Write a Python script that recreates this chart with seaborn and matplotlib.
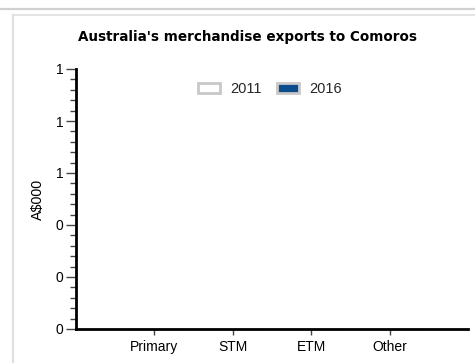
import matplotlib
matplotlib.use("Agg")
import matplotlib.pyplot as plt
from matplotlib.ticker import AutoMinorLocator, FormatStrFormatter, MultipleLocator
from matplotlib.lines import Line2D
from matplotlib.patches import Patch
import seaborn as sns
import pandas as pd

categories = ["Primary", "STM", "ETM", "Other"]
years = ["2011", "2016"]
exports_2011 = [0, 0, 0, 0]
exports_2016 = [0, 0, 0, 0]

palette = {"2011": "#ffffff", "2016": "#0b4c8c"}

df = pd.DataFrame({
    "category": categories * 2,
    "year": [years[0]] * len(categories) + [years[1]] * len(categories),
    "value": exports_2011 + exports_2016,
})

sns.set_theme(style="white")
plt.rcParams["font.family"] = ["Liberation Sans", "DejaVu Sans"]

fig = plt.figure(figsize=(4.75, 3.63), dpi=100)
fig.patch.set_facecolor("white")

# page frame lines
fig.add_artist(Line2D([0, 1], [1 - 8.5 / 363] * 2, transform=fig.transFigure,
                      color="#d0d0d0", lw=1.6))
fig.add_artist(Line2D([12.5 / 475, 1], [1 - 14.5 / 363] * 2, transform=fig.transFigure,
                      color="#e4e4e4", lw=1.5))
fig.add_artist(Line2D([12.5 / 475] * 2, [0, 1 - 14.5 / 363], transform=fig.transFigure,
                      color="#e0e0e0", lw=1.6))

ax = fig.add_axes([76 / 475, 1 - 329 / 363, (468 - 76) / 475, (329 - 69) / 363])
sns.barplot(data=df, x="category", y="value", hue="year", order=categories,
            hue_order=years, palette=palette, edgecolor="#c8c8c8", ax=ax,
            legend=False)

ax.set_xlim(-1, 4)
ax.set_ylim(0, 1)
ax.yaxis.set_major_locator(MultipleLocator(0.2))
ax.yaxis.set_major_formatter(FormatStrFormatter("%.0f"))
ax.yaxis.set_minor_locator(AutoMinorLocator(5))

for side in ("top", "right"):
    ax.spines[side].set_visible(False)
for side in ("left", "bottom"):
    ax.spines[side].set_color("black")
    ax.spines[side].set_linewidth(2)

ax.tick_params(axis="y", which="major", left=True, length=7, width=1,
               color="#444444", labelsize=10, pad=2, labelcolor="black")
ax.tick_params(axis="y", which="minor", left=True, length=4, width=1,
               color="#444444")
ax.tick_params(axis="x", which="major", bottom=True, length=4, width=1,
               color="#444444", labelsize=10, pad=4, labelcolor="black")

ax.set_xlabel("")
ax.set_ylabel("A$000", fontsize=10.3, labelpad=8, color="black")
ax.grid(False)

fig.text(248 / 475, 1 - 37 / 363, "Australia's merchandise exports to Comoros",
         ha="center", va="center", fontsize=9.75, fontweight="bold",
         family=["DejaVu Sans"], color="black")

handles = [Patch(facecolor=palette[y], edgecolor="#c8c8c8", linewidth=2) for y in years]
fig.legend(handles, years, loc="center", bbox_to_anchor=(270 / 475, 1 - 89 / 363),
           ncol=2, frameon=False, fontsize=10.5, handlelength=1.5, handleheight=0.65,
           columnspacing=1.1, handletextpad=0.7, borderpad=0.2)

fig.savefig("out.png", dpi=100, facecolor="white")
